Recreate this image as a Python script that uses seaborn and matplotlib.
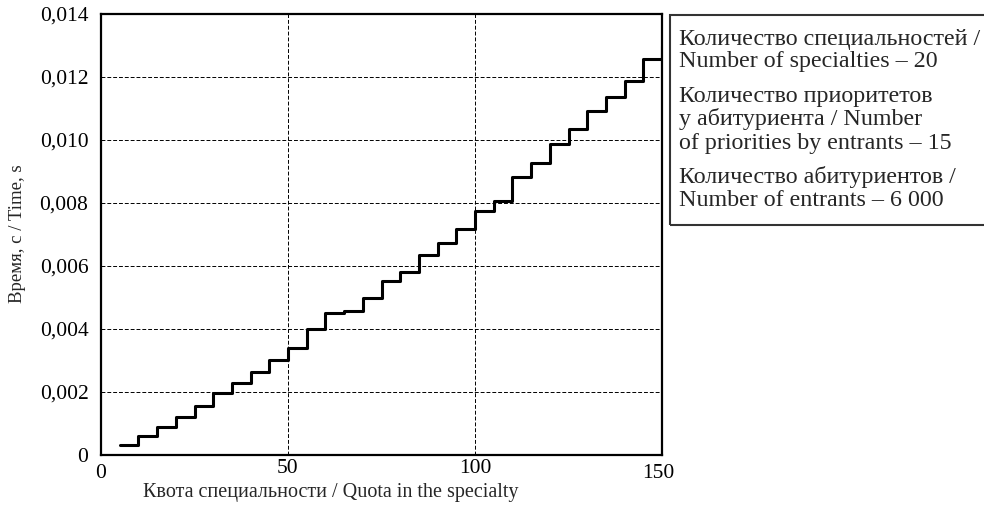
import matplotlib
matplotlib.use("Agg")
import matplotlib.pyplot as plt
import matplotlib.patches as mpatches
import matplotlib.transforms as mtransforms
import seaborn as sns
import pandas as pd

quota = [5, 10, 15, 20, 25, 30, 35, 40, 45, 50,
         55, 60, 65, 70, 75, 80, 85, 90, 95, 100,
         105, 110, 115, 120, 125, 130, 135, 140, 145, 150]
time_s = [0.00032, 0.00061, 0.00090, 0.00122, 0.00157, 0.00196, 0.00228, 0.00265, 0.00302, 0.00339,
          0.00400, 0.00451, 0.00458, 0.00498, 0.00551, 0.00580, 0.00634, 0.00673, 0.00719, 0.00776,
          0.00805, 0.00883, 0.00927, 0.00986, 0.01036, 0.01092, 0.01137, 0.01187, 0.01256, 0.01297]

yticks = [0, 0.002, 0.004, 0.006, 0.008, 0.010, 0.012, 0.014]
ytick_labels = ["0", "0,002", "0,004", "0,006", "0,008", "0,010", "0,012", "0,014"]
xticks = [0, 50, 100, 150]

info_lines = [
    "Количество специальностей /",
    "Number of specialties – 20",
    "Количество приоритетов",
    "у абитуриента / Number",
    "of priorities by entrants – 15",
    "Количество абитуриентов /",
    "Number of entrants – 6 000",
]
info_baselines = [45, 67, 102, 125, 149, 183, 206]

sns.set_theme(style="white")
plt.rcParams["font.family"] = ["Liberation Serif", "DejaVu Serif"]

df = pd.DataFrame({"quota": quota, "time": time_s})

fig = plt.figure(figsize=(9.84, 5.14), dpi=100)
ax = fig.add_axes([101 / 984, 1 - 455 / 514, 561 / 984, 441 / 514])

sns.lineplot(data=df, x="quota", y="time", ax=ax, color="black",
             linewidth=2.2, drawstyle="steps-post")

ax.set_xlim(0, 150)
ax.set_ylim(0, 0.014)
ax.set_xticks(xticks)
ax.set_xticklabels([str(t) for t in xticks], fontsize=15.5)
ax.set_yticks(yticks)
ax.set_yticklabels(ytick_labels, fontsize=15.5)
ax.tick_params(length=0, colors="black")
ax.tick_params(axis="y", pad=9)
ax.tick_params(axis="x", pad=3)
# the end labels sit a little lower in the original
labels = ax.get_xticklabels()
for i, (dx, dy) in {0: (0, -5), 3: (-4, -5)}.items():
    off = mtransforms.ScaledTranslation(dx / 100, dy / 100, fig.dpi_scale_trans)
    labels[i].set_transform(labels[i].get_transform() + off)
ax.grid(True, color="black", linestyle=(0, (4, 2)), linewidth=0.7)
for s in ax.spines.values():
    s.set_color("black")
    s.set_linewidth(1.6)
ax.set_xlabel("")
ax.set_ylabel("")

fig.text(331 / 984, 1 - 492 / 514, "Квота специальности / Quota in the specialty",
         ha="center", va="center", fontsize=14.5)
fig.text(18 / 984, 1 - 234 / 514, "Время, с / Time, s", rotation=90,
         ha="center", va="center", fontsize=13.5)

# info box on the right
box = mpatches.Rectangle((670 / 984, 1 - 225 / 514), 330 / 984, 210 / 514,
                         transform=fig.transFigure, fill=False,
                         edgecolor="#333333", linewidth=1.5, clip_on=False)
fig.patches.append(box)
for txt, base in zip(info_lines, info_baselines):
    fig.text(679 / 984, 1 - base / 514, txt, ha="left", va="baseline",
             fontsize=17.3)

fig.savefig("out.png", dpi=100)
